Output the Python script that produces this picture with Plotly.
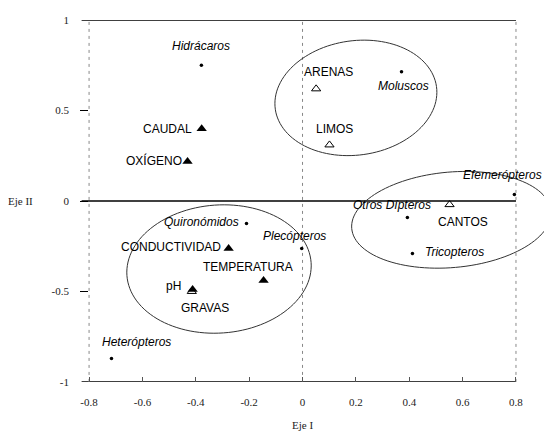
import numpy as np
import plotly.graph_objects as go

# ---------------- data ----------------
species = ["Hidrácaros", "Moluscos", "Efemerópteros", "Otros Dípteros",
           "Tricopteros", "Quironómidos", "Plecópteros", "Heterópteros"]
species_x = [-0.379, 0.371, 0.794, 0.393, 0.412, -0.21, -0.003, -0.716]
species_y = [0.75, 0.715, 0.036, -0.091, -0.29, -0.124, -0.262, -0.87]

substrates = ["ARENAS", "LIMOS", "CANTOS", "GRAVAS"]
substrates_x = [0.051, 0.101, 0.551, -0.415]
substrates_y = [0.62, 0.31, -0.02, -0.50]

variables = ["CAUDAL", "OXÍGENO", "CONDUCTIVIDAD", "TEMPERATURA", "pH"]
variables_x = [-0.378, -0.431, -0.277, -0.146, -0.412]
variables_y = [0.40, 0.218, -0.263, -0.44, -0.489]

x_ticks = [-0.8, -0.6, -0.4, -0.2, 0, 0.2, 0.4, 0.6, 0.8]
x_tick_text = ["-0.8", "-0.6", "-0.4", "-0.2", "0", "0.2", "0.4", "0.6", "0.8"]
y_ticks = [-1, -0.5, 0, 0.5, 1]
y_tick_text = ["-1", "-0.5", "0", "0.5", "1"]

group_cx = [0.20, 0.558, -0.313]
group_cy = [0.57, -0.104, -0.376]
group_rx = [0.305, 0.375, 0.346]
group_ry = [0.316, 0.264, 0.354]
group_angle = [8, 5, 4]

# ---------------- layout constants ----------------
# page body has an 8px margin, so the figure is sized/offset to compensate
W, H = 544, 432
ML, MR, MT, MB = 72, 0, 12, 58
XR = [-0.834, 0.935]
YR = [-1.0005, 1.0005]
SX = (W - ML - MR) / (XR[1] - XR[0])
SY = (H - MT - MB) / (YR[1] - YR[0])

SANS = "Liberation Sans, Arial, sans-serif"
SERIF = "Liberation Serif, Times New Roman, serif"

# label placement: (xanchor, xshift, yshift)
label_pos = {
    "Hidrácaros": ("center", 0, 19),
    "Moluscos": ("center", 2, -14),
    "Efemerópteros": ("center", -12, 19),
    "Otros Dípteros": ("center", -15, 12),
    "Tricopteros": ("left", 11, 1),
    "Quironómidos": ("right", -5, 1),
    "Plecópteros": ("center", -7, 12),
    "Heterópteros": ("center", 25, 16),
    "ARENAS": ("center", 12, 17),
    "LIMOS": ("center", 5, 16),
    "CANTOS": ("center", 13, -17),
    "GRAVAS": ("center", 13, -17),
    "CAUDAL": ("right", -8, 0),
    "OXÍGENO": ("right", -4, 1),
    "CONDUCTIVIDAD": ("right", -6, 2),
    "TEMPERATURA": ("center", -16, 14),
    "pH": ("right", -10, 3),
}

fig = go.Figure()

fig.add_trace(go.Scatter(x=species_x, y=species_y, mode="markers",
                         marker=dict(symbol="circle", size=3.5, color="black"),
                         hoverinfo="skip", showlegend=False))
fig.add_trace(go.Scatter(x=substrates_x, y=substrates_y, mode="markers",
                         marker=dict(symbol="triangle-up-open", size=8, color="black",
                                     line=dict(width=1, color="black")),
                         hoverinfo="skip", showlegend=False))
fig.add_trace(go.Scatter(x=variables_x, y=variables_y, mode="markers",
                         marker=dict(symbol="triangle-up", size=9, color="black"),
                         hoverinfo="skip", showlegend=False))

annotations = []
for names, xs, ys, italic in [(species, species_x, species_y, True),
                              (substrates, substrates_x, substrates_y, False),
                              (variables, variables_x, variables_y, False)]:
    for n, x, y in zip(names, xs, ys):
        anc, dx, dy = label_pos[n]
        txt = f"<i>{n}</i>" if italic else n
        annotations.append(dict(x=x, y=y, xref="x", yref="y", text=txt, showarrow=False,
                                xanchor=anc, yanchor="middle", xshift=dx, yshift=dy,
                                font=dict(family=SANS, size=12, color="black")))

annotations.append(dict(x=0, y=0, xref="x", yref="paper", text="Eje I", showarrow=False,
                        xanchor="center", yanchor="middle", yshift=-43,
                        font=dict(family=SERIF, size=11, color="#222")))
annotations.append(dict(x=0, y=0, xref="paper", yref="y", text="Eje II", showarrow=False,
                        xanchor="center", yanchor="middle", xshift=-60,
                        font=dict(family=SERIF, size=11, color="#222")))

shapes = []
# frame lines
for yv in (1, -1, 0):
    shapes.append(dict(type="line", xref="x", yref="y", x0=-0.828, x1=0.8, y0=yv, y1=yv,
                       line=dict(color="black", width=1.4), layer="below"))
for xv in (-0.8, 0, 0.8):
    shapes.append(dict(type="line", xref="x", yref="y", x0=xv, x1=xv, y0=-1, y1=1,
                       line=dict(color="#888", width=1, dash="3px,4px"), layer="below"))

# group ellipses
t = np.linspace(0, 2 * np.pi, 121)
for cx, cy, rx, ry, ang in zip(group_cx, group_cy, group_rx, group_ry, group_angle):
    a, b = rx * SX, ry * SY
    th = np.radians(ang)
    u, v = a * np.cos(t), b * np.sin(t)
    U = u * np.cos(th) - v * np.sin(th)
    V = u * np.sin(th) + v * np.cos(th)
    xs = cx + U / SX
    ys = cy + V / SY
    path = "M " + " L ".join(f"{x:.4f},{y:.4f}" for x, y in zip(xs, ys)) + " Z"
    shapes.append(dict(type="path", xref="x", yref="y", path=path,
                       line=dict(color="#333", width=1), layer="below"))

fig.update_layout(
    width=W, height=H,
    margin=dict(l=ML, r=MR, t=MT, b=MB),
    paper_bgcolor="white", plot_bgcolor="white",
    showlegend=False,
    shapes=shapes, annotations=annotations,
    xaxis=dict(range=XR, showgrid=False, zeroline=False, showline=False,
               tickmode="array", tickvals=x_ticks, ticktext=x_tick_text,
               ticks="inside", ticklen=5, tickcolor="#555", tickwidth=1,
               ticklabelstandoff=12,
               tickfont=dict(family=SERIF, size=11, color="#222")),
    yaxis=dict(range=YR, showgrid=False, zeroline=False, showline=False,
               tickmode="array", tickvals=y_ticks, ticktext=y_tick_text,
               ticks="inside", ticklen=8, tickcolor="black", tickwidth=1,
               ticklabelstandoff=10,
               tickfont=dict(family=SERIF, size=11, color="#222")),
)

fig.write_html("out.html")
